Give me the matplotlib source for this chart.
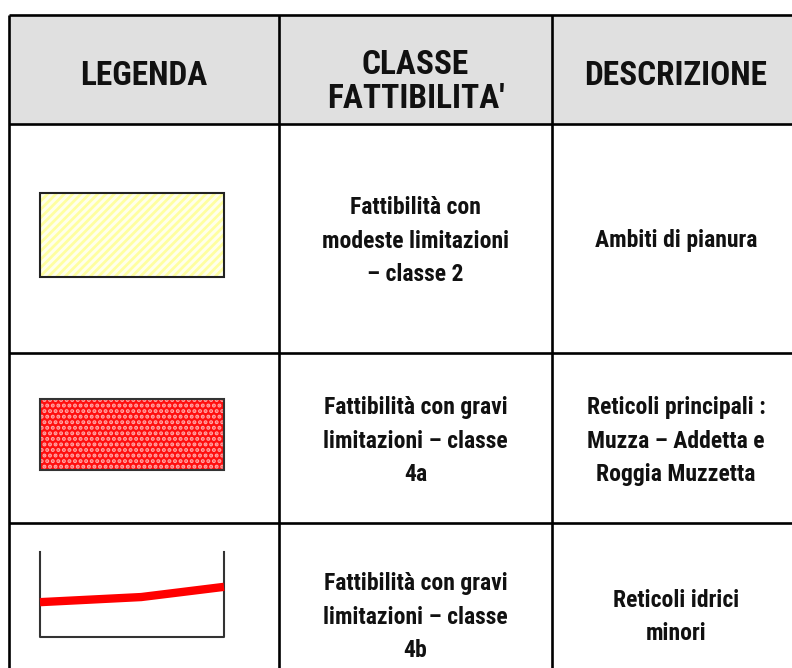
import matplotlib
matplotlib.use("Agg")
import matplotlib.pyplot as plt
from matplotlib.patches import Rectangle
from matplotlib import font_manager
from matplotlib.font_manager import FontProperties

# ---- data ----
headers = ["LEGENDA", "CLASSE\nFATTIBILITA'", "DESCRIZIONE"]
classes = [
    "Fattibilità con\nmodeste limitazioni\n– classe 2",
    "Fattibilità con gravi\nlimitazioni – classe\n4a",
    "Fattibilità con gravi\nlimitazioni – classe\n4b",
]
descriptions = [
    "Ambiti di pianura",
    "Reticoli principali :\nMuzza – Addetta e\nRoggia Muzzetta",
    "Reticoli idrici\nminori",
]
legend_kinds = ["hatch_yellow", "dots_red", "line_red"]

# ---- layout (pixel coordinates) ----
W, H = 792, 668
col_edges = [9, 279, 552, 800]
row_edges = [15, 124, 353, 523, 680]

# look for a condensed bold font (Arial Narrow look-alike)
narrow = None
prefs = ["liberationsansnarrow-bold.", "robotocondensed-bold", "dejavusanscondensed-bold.",
         "opensans_condensed-bold", "opensanscondensed-bold", "notosans-condensedbold",
         "notosanscondensed-bold"]
files = [f.fname for f in font_manager.fontManager.ttflist]
for p in prefs:
    for fn in files:
        base = fn.replace("\\", "/").split("/")[-1].lower().replace(" ", "")
        if base.startswith(p):
            narrow = fn
            break
    if narrow:
        break

if narrow:
    head_fp = FontProperties(fname=narrow, size=24)
    body_fp = FontProperties(fname=narrow, size=17)
    head_ls, body_ls = 1.07, 1.6
else:
    avail = {f.name for f in font_manager.fontManager.ttflist}
    fam = [f for f in ["Liberation Sans", "DejaVu Sans"] if f in avail]
    head_fp = FontProperties(family=fam, weight="bold", size=18)
    body_fp = FontProperties(family=fam, weight="bold", size=14.8)
    head_ls, body_ls = 1.3, 1.7

plt.rcParams['hatch.linewidth'] = 2.0

fig = plt.figure(figsize=(W / 100, H / 100), dpi=100)
ax = fig.add_axes([0, 0, 1, 1])
ax.set_xlim(0, W)
ax.set_ylim(H, 0)
ax.axis("off")

# header background
ax.add_patch(Rectangle((col_edges[0], row_edges[0]), col_edges[-1] - col_edges[0],
                       row_edges[1] - row_edges[0], facecolor="#e0e0e0", edgecolor="none"))

lw = 1.9
for x in col_edges[:-1]:
    ax.plot([x, x], [row_edges[0], row_edges[-1]], color="black", lw=lw, solid_capstyle="butt")
for y in row_edges[:-1]:
    ax.plot([col_edges[0], col_edges[-1]], [y, y], color="black", lw=lw, solid_capstyle="butt")

def cx(i):
    return (col_edges[i] + col_edges[i + 1]) / 2

txt_color = "#111111"
head_y = [76, 82, 76]
for i, h in enumerate(headers):
    ax.text(cx(i), head_y[i], h, ha="center", va="center", fontproperties=head_fp,
            linespacing=head_ls, color=txt_color)

row_text_y = [241, 441, 617]
for r in range(3):
    ax.text(cx(1), row_text_y[r], classes[r], ha="center", va="center",
            fontproperties=body_fp, linespacing=body_ls, color=txt_color)
    ax.text(cx(2), row_text_y[r], descriptions[r], ha="center", va="center",
            fontproperties=body_fp, linespacing=body_ls, color=txt_color)

# legend swatches
sw_x0, sw_x1 = 40, 224
swatch_y = [(193, 277), (399, 470), (552, 637)]
for kind, (y0, y1) in zip(legend_kinds, swatch_y):
    w, h = sw_x1 - sw_x0, y1 - y0
    if kind == "hatch_yellow":
        ax.add_patch(Rectangle((sw_x0, y0), w, h, facecolor="#ffffec",
                               edgecolor="#ffffa0", hatch="////", lw=0))
        ax.add_patch(Rectangle((sw_x0, y0), w, h, facecolor="none",
                               edgecolor="#222222", lw=1.5))
    elif kind == "dots_red":
        ax.add_patch(Rectangle((sw_x0, y0), w, h, facecolor="#ff0f0f",
                               edgecolor="#ffa8a8", hatch="...", lw=0))
        ax.add_patch(Rectangle((sw_x0, y0), w, h, facecolor="none",
                               edgecolor="#333333", lw=1.5))
    else:
        ax.plot([sw_x0, sw_x0, sw_x1, sw_x1], [y0, y1, y1, y0], color="#333333", lw=1.5)
        ax.plot([sw_x0, sw_x0 + 0.55 * w, sw_x1],
                [y0 + 0.59 * h, y0 + 0.53 * h, y0 + 0.41 * h],
                color="#ff0000", lw=6, solid_capstyle="butt")

fig.savefig("out.png", dpi=100)
